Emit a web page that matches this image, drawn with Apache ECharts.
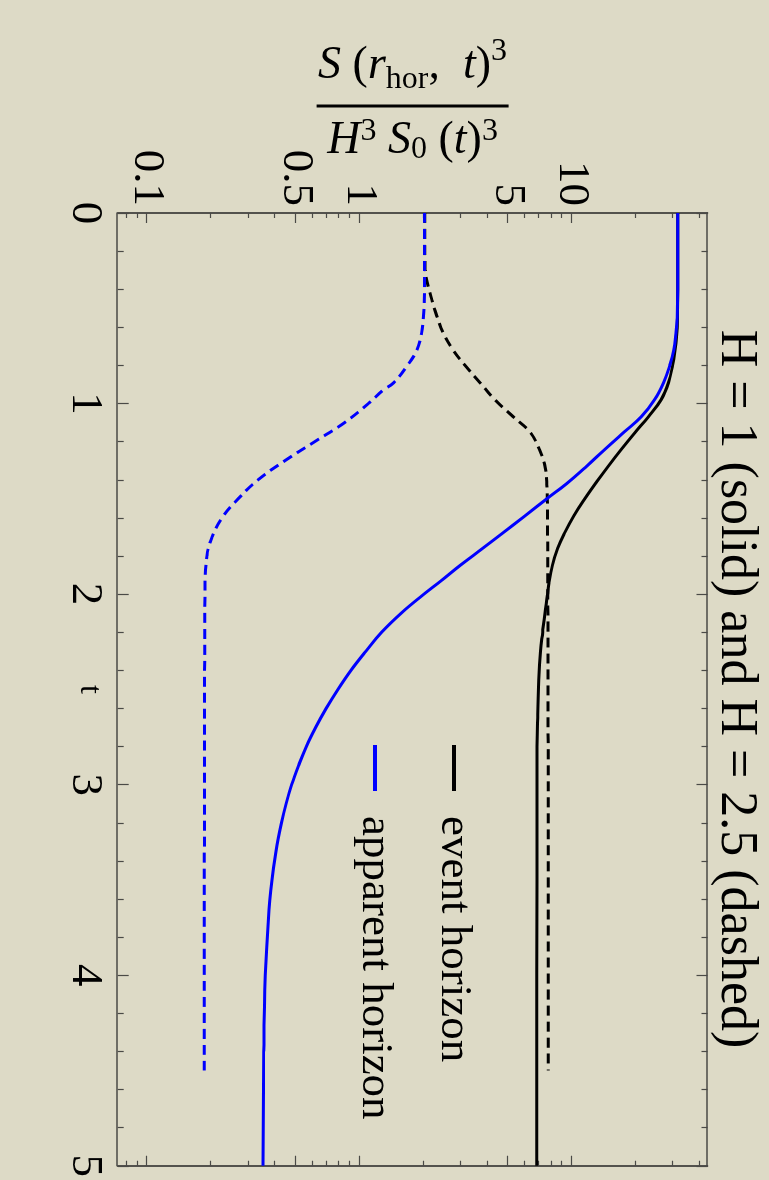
<!DOCTYPE html>
<html>
<head>
<meta charset="utf-8">
<script src="https://cdn.jsdelivr.net/npm/echarts@6/dist/echarts.min.js"></script>
<style>
html, body { margin: 0; padding: 0; width: 769px; height: 1180px; overflow: hidden; background: #dddac6; }
#chart { position: absolute; left: 0; top: 0; width: 1180px; height: 769px;
  transform-origin: 0 0; transform: translate(769px, 0) rotate(90deg); }
</style>
</head>
<body>
<div id="chart"></div>
<script>
// ---- data ----
const tEventH1 = [0, 0.4, 0.55, 0.65, 0.72, 0.8, 0.89, 0.98, 1.07, 1.15, 1.24, 1.33, 1.41, 1.5, 1.59, 1.68, 1.76, 1.85, 1.94, 2.01, 2.1, 2.2, 2.3, 2.45, 2.65, 2.9, 3.5, 5.0];
const vEventH1 = [31.5, 31.5, 31.4, 31.1, 30.6, 29.8, 28.5, 26.3, 22.9, 19.9, 17.1, 14.8, 13.1, 11.5, 10.2, 9.23, 8.57, 8.09, 7.8, 7.66, 7.46, 7.28, 7.11, 6.98, 6.9, 6.85, 6.84, 6.83];

const tApparentH1 = [0, 0.4, 0.55, 0.63, 0.72, 0.8, 0.89, 0.98, 1.07, 1.15, 1.24, 1.33, 1.42, 1.5, 1.59, 1.68, 1.76, 1.85, 1.93, 2.01, 2.1, 2.2, 2.3, 2.4, 2.5, 2.6, 2.7, 2.8, 2.9, 3.0, 3.1, 3.2, 3.35, 3.5, 3.7, 4.0, 4.4, 5.0];
const vApparentH1 = [31.5, 31.5, 31.3, 30.9, 30.2, 28.9, 27.0, 24.5, 21.2, 17.6, 14.3, 11.7, 9.45, 7.61, 6.0, 4.72, 3.8, 2.97, 2.42, 1.96, 1.57, 1.27, 1.07, 0.911, 0.791, 0.696, 0.621, 0.561, 0.516, 0.479, 0.451, 0.429, 0.404, 0.387, 0.372, 0.36, 0.354, 0.351];

const tEventH25 = [0, 0.2, 0.3, 0.455, 0.54, 0.63, 0.72, 0.8, 0.89, 0.98, 1.07, 1.15, 1.24, 1.33, 1.41, 1.5, 2.0, 3.0, 4.5];
const vEventH25 = [2.03, 2.03, 2.04, 2.19, 2.31, 2.48, 2.76, 3.14, 3.69, 4.34, 5.3, 6.35, 7.02, 7.47, 7.61, 7.66, 7.7, 7.73, 7.74];

const tApparentH25 = [0, 0.4, 0.54, 0.63, 0.72, 0.8, 0.89, 0.93, 1.0, 1.1, 1.2, 1.3, 1.4, 1.5, 1.6, 1.7, 1.8, 2.0, 3.0, 4.5];
const vApparentH25 = [2.02, 2.02, 2.0, 1.96, 1.86, 1.68, 1.45, 1.29, 1.1, 0.85, 0.615, 0.445, 0.333, 0.268, 0.225, 0.202, 0.191, 0.187, 0.186, 0.1855];

const logMajorTicks = [0.1, 0.5, 1, 5, 10];
const logMajorLabels = ['0.1', '0.5', '1', '5', '10'];
const logMinorTicks = [0.08, 0.09, 0.2, 0.3, 0.4, 0.6, 0.7, 0.8, 0.9, 2, 3, 4, 6, 7, 8, 9, 20, 30, 40];
const legendNames = ['event horizon', 'apparent horizon'];
const titleText = 'H = 1 (solid) and H = 2.5 (dashed)';

// ---- chart ----
const FONT = '"Liberation Serif", "DejaVu Serif", serif';
const FRAME = '#4a4a46';
const V_MIN = 0.0726, V_MAX = 43.5;

function pairs(ts, vs) { return ts.map((t, i) => [t, vs[i]]); }

function logAxis(position, ticks, len, withLabels, extra) {
  const ax = {
    type: 'log', logBase: 10, position: position, min: V_MIN, max: V_MAX,
    axisLine: { show: true, onZero: false, lineStyle: { color: FRAME, width: 1.5 } },
    axisTick: { show: true, inside: true, length: len, customValues: ticks, lineStyle: { color: FRAME, width: 1.2 } },
    axisLabel: withLabels ? {
      show: true, customValues: logMajorTicks, margin: 7,
      fontFamily: FONT, fontSize: 45, color: '#000',
      formatter: function (v) {
        const i = logMajorTicks.findIndex(m => Math.abs(m - v) / m < 1e-6);
        return i >= 0 ? logMajorLabels[i] : '';
      }
    } : { show: false },
    splitLine: { show: false }, minorTick: { show: false }, minorSplitLine: { show: false }
  };
  return Object.assign(ax, extra || {});
}

function tAxis(position, withLabels, extra) {
  const ax = {
    type: 'value', position: position, min: 0, max: 5, interval: 1,
    axisLine: { show: true, onZero: false, lineStyle: { color: FRAME, width: 1.5 } },
    axisTick: { show: true, inside: true, length: 11, lineStyle: { color: FRAME, width: 1.2 } },
    minorTick: { show: true, splitNumber: 5, length: 6, lineStyle: { color: FRAME, width: 1.2 } },
    axisLabel: withLabels ? { show: true, margin: 10, fontFamily: FONT, fontSize: 45, color: '#000' } : { show: false },
    splitLine: { show: false }
  };
  return Object.assign(ax, extra || {});
}

const fracName =
  '{ni|S}{nr| (}{ni|r}{nsub|hor}{nr|,  }{ni|t}{nr|)}{nsup|3}\n' +
  '{bar| }\n' +
  '{di|H}{dsup|3}{dr| }{di|S}{dsub|0}{dr| (}{di|t}{dr|)}{dsup|3}';

const lineCommon = { showSymbol: false, symbol: 'none', smooth: 0.4, xAxisIndex: 0, yAxisIndex: 0 };

const option = {
  backgroundColor: '#dddac6',
  animation: false,
  title: {
    text: titleText, left: 684, top: 2, textAlign: 'center',
    textStyle: { fontFamily: FONT, fontSize: 52, fontWeight: 'normal', color: '#000' }
  },
  legend: {
    data: legendNames, orient: 'vertical', left: 740, top: 285,
    icon: 'rect', itemWidth: 46, itemHeight: 4, itemGap: 29, selectedMode: false,
    textStyle: { fontFamily: FONT, fontSize: 45, color: '#000', lineHeight: 50, padding: [0, 0, 0, 20] }
  },
  grid: { left: 213, right: 13, top: 61.5, bottom: 117.7, containLabel: false },
  xAxis: [
    tAxis('bottom', true, {
      name: 't', nameLocation: 'middle', nameGap: 12, nameMoveOverlap: false,
      nameTextStyle: { fontFamily: FONT, fontSize: 32, color: '#000' }
    }),
    tAxis('top', false)
  ],
  yAxis: [
    logAxis('left', logMajorTicks, 10, true, {
      name: fracName, nameLocation: 'middle', nameRotate: 90, nameGap: 47, nameMoveOverlap: false,
      nameTextStyle: {
        color: '#000', fontFamily: FONT, align: 'center',
        rich: {
          ni: { fontFamily: FONT, fontStyle: 'italic', fontSize: 46, lineHeight: 60, color: '#000' },
          nr: { fontFamily: FONT, fontSize: 46, lineHeight: 60, color: '#000' },
          nsub: { fontFamily: FONT, fontSize: 32, lineHeight: 60, verticalAlign: 'bottom', color: '#000' },
          nsup: { fontFamily: FONT, fontSize: 32, lineHeight: 60, verticalAlign: 'top', color: '#000' },
          bar: { width: 192, height: 3, lineHeight: 20, backgroundColor: '#000', fontSize: 4 },
          di: { fontFamily: FONT, fontStyle: 'italic', fontSize: 46, lineHeight: 50, color: '#000' },
          dr: { fontFamily: FONT, fontSize: 46, lineHeight: 50, color: '#000' },
          dsub: { fontFamily: FONT, fontSize: 32, lineHeight: 50, verticalAlign: 'bottom', color: '#000' },
          dsup: { fontFamily: FONT, fontSize: 32, lineHeight: 50, verticalAlign: 'top', color: '#000' }
        }
      }
    }),
    logAxis('left', logMinorTicks, 5, false),
    logAxis('right', logMajorTicks, 10, false),
    logAxis('right', logMinorTicks, 5, false)
  ],
  series: [
    Object.assign({ name: legendNames[0], type: 'line', data: pairs(tEventH1, vEventH1),
      lineStyle: { color: '#000', width: 3 }, itemStyle: { color: '#000' } }, lineCommon),
    Object.assign({ name: legendNames[0], type: 'line', data: pairs(tEventH25, vEventH25),
      lineStyle: { color: '#000', width: 3, type: [10, 6] }, itemStyle: { color: '#000' } }, lineCommon),
    Object.assign({ name: legendNames[1], type: 'line', data: pairs(tApparentH1, vApparentH1),
      lineStyle: { color: '#0000ff', width: 3 }, itemStyle: { color: '#0000ff' } }, lineCommon),
    Object.assign({ name: legendNames[1], type: 'line', data: pairs(tApparentH25, vApparentH25),
      lineStyle: { color: '#0000ff', width: 3, type: [10, 6] }, itemStyle: { color: '#0000ff' } }, lineCommon)
  ]
};

const chart = echarts.init(document.getElementById('chart'), null, { renderer: 'canvas', width: 1180, height: 769 });
chart.setOption(option);
</script>
</body>
</html>
